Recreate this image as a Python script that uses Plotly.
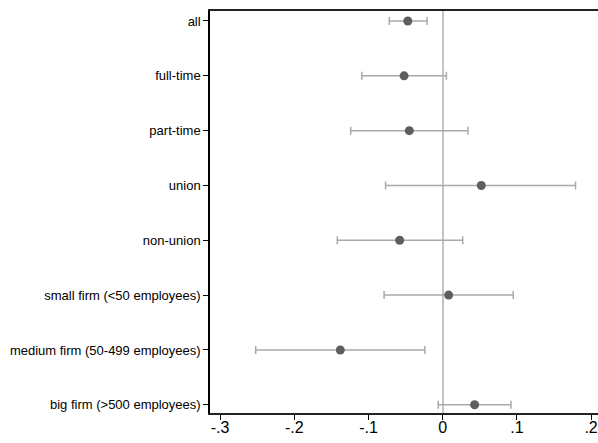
import plotly.graph_objects as go

# Coefficient estimates with 95% confidence intervals by subgroup
groups = [
    "all",
    "full-time",
    "part-time",
    "union",
    "non-union",
    "small firm (<50 employees)",
    "medium firm (50-499 employees)",
    "big firm (>500 employees)",
]
estimate = [-0.047, -0.052, -0.045, 0.052, -0.058, 0.008, -0.138, 0.043]
ci_low = [-0.072, -0.109, -0.124, -0.077, -0.142, -0.079, -0.252, -0.006]
ci_high = [-0.021, 0.005, 0.034, 0.179, 0.027, 0.095, -0.024, 0.092]

x_ticks = [-0.3, -0.2, -0.1, 0, 0.1, 0.2]
x_tick_text = ["-.3", "-.2", "-.1", "0", ".1", ".2"]

ypos = list(range(1, len(groups) + 1))

fig = go.Figure()
fig.add_trace(go.Scatter(
    x=estimate,
    y=ypos,
    mode="markers",
    marker=dict(size=9, color="#5e5e5e"),
    error_x=dict(
        type="data",
        symmetric=False,
        array=[h - e for h, e in zip(ci_high, estimate)],
        arrayminus=[e - l for l, e in zip(ci_low, estimate)],
        color="#a9a9a9",
        thickness=1.5,
        width=4,
    ),
    showlegend=False,
))

fig.update_layout(
    width=598,
    height=443,
    margin=dict(l=210, r=0, t=11, b=30),
    paper_bgcolor="white",
    plot_bgcolor="white",
    font=dict(family="Liberation Sans, Arial, sans-serif", color="#000"),
    xaxis=dict(
        range=[-0.3136, 0.2093],
        tickvals=x_ticks,
        ticktext=x_tick_text,
        tickfont=dict(size=16),
        ticks="outside",
        ticklen=5,
        tickcolor="#000",
        ticklabelstandoff=-6,
        showline=True,
        linecolor="#222",
        linewidth=1.5,
        mirror=True,
        showgrid=False,
        zeroline=True,
        zerolinecolor="#c4c4c4",
        zerolinewidth=2,
    ),
    yaxis=dict(
        range=[8.15, 0.818],
        tickvals=ypos,
        ticktext=groups,
        tickfont=dict(size=13),
        ticks="outside",
        ticklen=5,
        tickcolor="#000",
        showline=True,
        linecolor="#000",
        linewidth=1.5,
        showgrid=False,
        zeroline=False,
    ),
)

fig.write_html("out.html")
